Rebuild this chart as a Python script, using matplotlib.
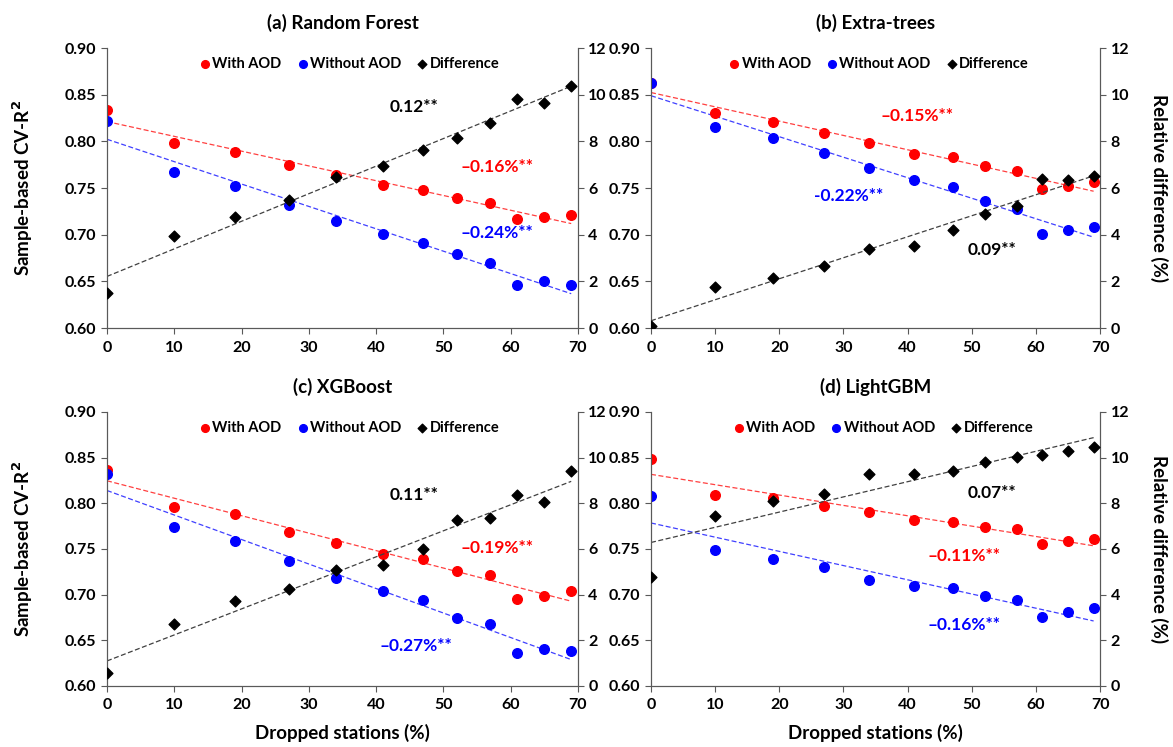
import numpy as np
import matplotlib.pyplot as plt

plt.rcParams['font.family'] = ['Lato', 'DejaVu Sans']
plt.rcParams['font.weight'] = 'bold'

drop = [0, 10, 19, 27, 34, 41, 47, 52, 57, 61, 65, 69]

rf_with = [0.834, 0.798, 0.789, 0.775, 0.764, 0.753, 0.748, 0.739, 0.734, 0.717, 0.719, 0.721]
rf_without = [0.822, 0.767, 0.752, 0.732, 0.715, 0.701, 0.691, 0.679, 0.670, 0.646, 0.650, 0.646]
rf_diff = [1.50, 3.93, 4.74, 5.49, 6.47, 6.94, 7.63, 8.16, 8.80, 9.83, 9.64, 10.36]

et_with = [0.863, 0.830, 0.821, 0.809, 0.798, 0.786, 0.783, 0.774, 0.768, 0.749, 0.752, 0.756]
et_without = [0.863, 0.815, 0.804, 0.788, 0.771, 0.759, 0.751, 0.736, 0.727, 0.701, 0.705, 0.708]
et_diff = [0.10, 1.76, 2.14, 2.64, 3.37, 3.53, 4.20, 4.89, 5.24, 6.39, 6.36, 6.50]

xgb_with = [0.837, 0.796, 0.788, 0.769, 0.757, 0.744, 0.739, 0.726, 0.722, 0.695, 0.698, 0.704]
xgb_without = [0.832, 0.774, 0.759, 0.737, 0.718, 0.704, 0.694, 0.674, 0.668, 0.636, 0.641, 0.638]
xgb_diff = [0.57, 2.71, 3.70, 4.24, 5.10, 5.29, 6.02, 7.25, 7.36, 8.38, 8.07, 9.40]

lgb_with = [0.849, 0.809, 0.806, 0.797, 0.790, 0.782, 0.780, 0.774, 0.772, 0.755, 0.759, 0.761]
lgb_without = [0.808, 0.749, 0.739, 0.730, 0.716, 0.709, 0.707, 0.698, 0.694, 0.676, 0.681, 0.685]
lgb_diff = [4.79, 7.46, 8.11, 8.42, 9.27, 9.28, 9.43, 9.81, 10.03, 10.13, 10.30, 10.46]

titles = ['(a) Random Forest', '(b) Extra-trees', '(c) XGBoost', '(d) LightGBM']
with_sets = [rf_with, et_with, xgb_with, lgb_with]
without_sets = [rf_without, et_without, xgb_without, lgb_without]
diff_sets = [rf_diff, et_diff, xgb_diff, lgb_diff]

# slope labels: (text, color, x frac, y frac)
notes = [
    [('0.12**', 'black', 0.60, 0.789), ('\u20130.16%**', 'red', 0.75, 0.575), ('\u20130.24%**', 'blue', 0.75, 0.339)],
    [('\u20130.15%**', 'red', 0.511, 0.756), ('-0.22%**', 'blue', 0.363, 0.470), ('0.09**', 'black', 0.704, 0.280)],
    [('0.11**', 'black', 0.60, 0.697), ('\u20130.19%**', 'red', 0.75, 0.505), ('\u20130.27%**', 'blue', 0.579, 0.147)],
    [('0.07**', 'black', 0.704, 0.704), ('\u20130.11%**', 'red', 0.616, 0.474), ('\u20130.16%**', 'blue', 0.616, 0.222)],
]
leg_x = [0.514, 0.506, 0.514, 0.516]

boxes = [[0.0912, 0.5609, 0.4015, 0.3748],
         [0.555, 0.5609, 0.3828, 0.3748],
         [0.0912, 0.0817, 0.4015, 0.3668],
         [0.555, 0.0817, 0.3828, 0.3668]]

spine_c = '#595959'
fig = plt.figure(figsize=(11.73, 7.47), dpi=100)

for i in range(4):
    ax = fig.add_axes(boxes[i])
    ax2 = ax.twinx()
    x = np.array(drop)
    yw = np.array(with_sets[i])
    yo = np.array(without_sets[i])
    yd = np.array(diff_sets[i])

    # trend lines
    pw = np.polyfit(x, yw, 1)
    po = np.polyfit(x, yo, 1)
    pd_ = np.polyfit(x, yd, 1)
    ax.plot(x, np.polyval(pw, x), '--', color='#ff4040', lw=0.9, dashes=(4, 2), zorder=2)
    ax.plot(x, np.polyval(po, x), '--', color='#4040ff', lw=0.9, dashes=(4, 2), zorder=2)
    ax2.plot(x, np.polyval(pd_, x), '--', color='#404040', lw=0.9, dashes=(4, 2), zorder=2)

    h1 = ax.scatter(x, yw, s=48, color='#ff0000', zorder=3, label='With AOD')
    h2 = ax.scatter(x, yo, s=48, color='#0000ff', zorder=3, label='Without AOD')
    h3 = ax2.scatter(x, yd, s=30, marker='D', color='black', zorder=3, label='Difference')

    ax.set_xlim(0, 70)
    ax.set_ylim(0.60, 0.90)
    ax2.set_ylim(0, 12)
    ax.set_xticks(range(0, 71, 10))
    ax.set_yticks(np.arange(0.60, 0.901, 0.05))
    ax.set_yticklabels(['%.2f' % v for v in np.arange(0.60, 0.901, 0.05)])
    ax2.set_yticks(range(0, 13, 2))

    for a in (ax, ax2):
        a.spines['top'].set_visible(False)
        for s in ('left', 'right', 'bottom'):
            a.spines[s].set_color(spine_c)
        a.tick_params(direction='out', color=spine_c, labelsize=11.5, length=4)
    ax.tick_params(axis='x', pad=5)

    ax.set_title(titles[i], fontsize=13.5, fontweight='bold', pad=14)
    if i % 2 == 0:
        ax.set_ylabel('Sample-based CV-R$^\\mathbf{2}$', fontsize=13.5, fontweight='bold', labelpad=22)
    else:
        ax2.set_ylabel('Relative difference (%)', fontsize=13.5, fontweight='bold', rotation=270, labelpad=28)
    if i >= 2:
        ax.set_xlabel('Dropped stations (%)', fontsize=13.5, fontweight='bold', labelpad=8)

    for t, c, fx, fy in notes[i]:
        ax2.text(fx, fy, t, color=c, fontsize=12.5, fontweight='bold', transform=ax2.transAxes,
                 ha='left', va='center', zorder=5)

    ax2.legend(handles=[h1, h2, h3], loc='center', bbox_to_anchor=(leg_x[i], 0.943), ncol=3,
               frameon=False, fontsize=10.5, handletextpad=0.05, columnspacing=1.0,
               handlelength=0.9, markerscale=0.8, borderaxespad=0)

plt.savefig('out.png', dpi=100)
